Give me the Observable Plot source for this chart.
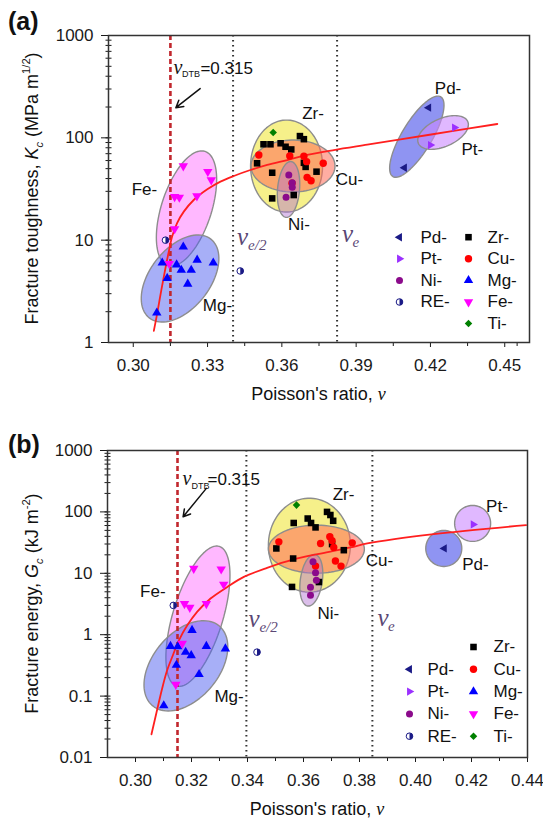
<!DOCTYPE html>
<html><head><meta charset="utf-8">
<script src="https://cdn.jsdelivr.net/npm/d3@7"></script>
<script src="https://cdn.jsdelivr.net/npm/@observablehq/plot@0.6"></script>
<style>
html,body{margin:0;padding:0;background:#fff;}
#wrap{width:543px;}
#wrap svg{display:block;}
</style></head>
<body><div id="wrap"></div>
<script>
// ================= DATA =================
// Panel (a): fracture toughness Kc (MPa m^1/2) vs Poisson's ratio
const aPd = [[0.4193,197],[0.4095,51]];
const aPt = [[0.4297,126],[0.4200,85]];
const aNi = [[0.3628,43.4],[0.3642,36.5],[0.3642,32.9],[0.3617,26.2]];
const aRE = [[0.3130,10.0],[0.3432,5.0]];
const aZr = [[0.3673,104],[0.3689,97],[0.3526,86.5],[0.3554,86.5],[0.3595,88.5],[0.3615,81.8],[0.3638,77],[0.3500,56.4],[0.3561,45.6],[0.3689,57],[0.3696,52],[0.3740,46.7],[0.3648,27.6],[0.3561,25.6]];
const aCu = [[0.3507,68],[0.3632,66.4],[0.3689,66],[0.3700,58.5],[0.3767,56.4],[0.3702,41.1],[0.3718,38.1],[0.3641,36]];
const aMg = [[0.3202,8.6],[0.3117,6.0],[0.3175,5.75],[0.3194,5.1],[0.3234,5.1],[0.3258,6.4],[0.3323,6.0],[0.3137,4.24],[0.3220,3.73],[0.3095,1.95]];
const aFe = [[0.3202,53],[0.3301,46.7],[0.3315,38.7],[0.3167,26.6],[0.3186,26.2],[0.3257,27],[0.3167,12.9],[0.3145,5.9]];
const aTi = [[0.3565,113]];
const aFit = [[0.3083,1.30],[0.3094,1.78],[0.3104,2.43],[0.3114,3.33],[0.3124,4.47],[0.3134,5.98],[0.3144,7.84],[0.3156,10.7],[0.3177,14.7],[0.3204,19.0],[0.3244,24.7],[0.3299,31.4],[0.3352,37.3],[0.3406,42.4],[0.3473,48.5],[0.3541,54.3],[0.3622,60.7],[0.3702,68.0],[0.3810,76.0],[0.3945,85.7],[0.4079,96.5],[0.4281,115.6],[0.4470,136.5]];
const aXTicks = [0.30,0.33,0.36,0.39,0.42,0.45];
const aXMinor = [0.315,0.345,0.375,0.405,0.435,0.455];
const aYTicks = [1,10,100,1000];
const aVLines = [0.3403,0.3823];
const aDTB = 0.315;

// Panel (b): fracture energy Gc (kJ m^-2) vs Poisson's ratio
const bPd = [[0.4103,25.4]];
const bPt = [[0.4206,62.5]];
const bNi = [[0.3634,15.4],[0.3643,10.2],[0.3646,7.7],[0.3625,5.9],[0.3625,4.4]];
const bRE = [[0.3135,3.0],[0.3434,0.52]];
const bZr = [[0.3565,66],[0.3615,78],[0.3627,66],[0.3684,100],[0.3696,89],[0.3706,71.6],[0.3643,55.9],[0.3503,25.4],[0.3563,17.4],[0.3559,6.0],[0.3744,23.8],[0.3702,29.9],[0.3655,7.2]];
const bCu = [[0.3512,32.5],[0.3661,30.6],[0.3694,39.3],[0.3702,33.8],[0.3708,26.4],[0.3714,15.9],[0.3734,13.1],[0.3774,31.3],[0.3643,13.1]];
const bMg = [[0.3202,1.18],[0.3125,0.65],[0.3151,0.64],[0.3179,0.52],[0.3199,0.46],[0.3253,0.65],[0.3321,0.59],[0.3146,0.32],[0.3227,0.226],[0.3101,0.070]];
const bFe = [[0.3208,12],[0.3306,11.7],[0.3315,6.6],[0.3175,3.2],[0.3194,2.77],[0.3253,3.2],[0.3167,0.72],[0.3144,0.154]];
const bTi = [[0.3575,129]];
const bFit = [[0.3057,0.0239],[0.3075,0.0542],[0.3095,0.132],[0.3113,0.263],[0.3131,0.433],[0.3155,0.810],[0.3185,1.42],[0.3220,2.35],[0.3268,3.88],[0.3328,6.00],[0.3387,8.74],[0.3470,12.25],[0.3565,16.8],[0.3661,21.0],[0.3768,26.4],[0.3828,30.6],[0.4065,43.4],[0.4395,60.9]];
const bXTicks = [0.30,0.32,0.34,0.36,0.38,0.40,0.42,0.44];
const bXMinor = [0.31,0.33,0.35,0.37,0.39,0.41,0.43];
const bYTicks = [0.01,0.1,1,10,100,1000];
const bVLines = [0.3396,0.3846];
const bDTB = 0.315;

// ================= STYLE / LAYOUT =================
const FONT = "Liberation Sans, Arial, sans-serif";
const SERIF = "Liberation Serif, Times New Roman, serif";
const NAVY = "#1a1a86";
const halfRight = {draw(ctx, size){const r=Math.sqrt(size/Math.PI); ctx.moveTo(0,-r); ctx.arc(0,0,r,-Math.PI/2,Math.PI/2); ctx.closePath();}};
const hTick = {draw(ctx, size){const r=Math.sqrt(size/Math.PI); ctx.moveTo(-r,0); ctx.lineTo(r,0);}};
const vTick = {draw(ctx, size){const r=Math.sqrt(size/Math.PI); ctx.moveTo(0,0); ctx.lineTo(0,r);}};
const SYM = {
  "Pd-": {symbol:"triangle", rotate:-90, fill:NAVY, r:3.1},
  "Pt-": {symbol:"triangle", rotate:90, fill:"#9b30ff", r:3.1},
  "Ni-": {symbol:"circle", fill:"#8b0a8b", r:3.5},
  "Zr-": {symbol:"square", fill:"#000000", r:3.7},
  "Cu-": {symbol:"circle", fill:"#ff0000", r:3.7},
  "Mg-": {symbol:"triangle", fill:"#0000ff", r:3.5},
  "Fe-": {symbol:"triangle", rotate:180, fill:"#ff00ff", r:3.5},
  "Ti-": {symbol:"diamond2", fill:"#008000", r:3.4}
};
function symMarks(data, name, pos) {
  if (name === "RE-") return [
    Plot.dot(data, {...pos, symbol:"circle", r:3.3, fill:"#ffffff", stroke:NAVY, strokeWidth:1}),
    Plot.dot(data, {...pos, symbol:halfRight, r:3.3, fill:NAVY})
  ];
  return [Plot.dot(data, {...pos, ...SYM[name]})];
}
const XY = {x: d => d[0], y: d => d[1]};

function ellipseRing(e, kx, ky) {
  const th = e.rot*Math.PI/180, pts = [];
  for (let i = 0; i <= 90; i++) {
    const t = i/90*2*Math.PI;
    const ux = e.rx*Math.cos(t), uy = e.ry*Math.sin(t);
    const dx = ux*Math.cos(th) - uy*Math.sin(th);
    const dy = ux*Math.sin(th) + uy*Math.cos(th);
    pts.push({x: e.v + dx*kx, y: e.c*Math.pow(10, -dy*ky)});
  }
  return pts;
}
function ellipseMarks(list, kx, ky) {
  return list.map(e => Plot.line(ellipseRing(e, kx, ky), {x:"x", y:"y", curve:"linear",
    fill:e.fill, fillOpacity:e.op, stroke:"#8d8d8d", strokeWidth:1.4}));
}

function rich(svg, {x, y, rotate=0, anchor="middle", size, parts, weight, fill="#111"}) {
  const t = d3.select(svg).append("text")
    .attr("transform", `translate(${x},${y})` + (rotate ? ` rotate(${rotate})` : ""))
    .attr("text-anchor", anchor).attr("font-size", size).attr("fill", fill)
    .attr("font-family", FONT);
  if (weight) t.attr("font-weight", weight);
  let cur = 0;
  for (const p of parts) {
    const off = p.sub ? 0.28*size : p.sup ? -0.42*size : 0;
    const s = t.append("tspan").text(p.t).attr("dy", off - cur);
    cur = off;
    if (p.sub || p.sup) s.attr("font-size", size*0.62);
    if (p.italic) s.attr("font-style", "italic");
    if (p.serif) s.attr("font-family", SERIF);
  }
}

function legendMarks(cols, L) {
  const marks = [];
  cols.forEach((col, ci) => col.forEach((name, ri) => {
    if (!name) return;
    const dy = L.y0 + ri*L.step;
    marks.push(...symMarks([0], name, {frameAnchor:"top-left", dx:L.mx[ci], dy}));
    marks.push(Plot.text([name], {text:d=>d, frameAnchor:"top-left", dx:L.tx[ci], dy,
      textAnchor:"start", lineAnchor:"middle", fontSize:17, fill:"#111"}));
  }));
  return marks;
}

function nuLabel(xv, yv, dx, sub, subDx) {
  return [
    Plot.text([0], {x:()=>xv, y:()=>yv, text:()=>"ν", dx, textAnchor:"start", lineAnchor:"bottom",
      fontFamily:SERIF, fontStyle:"italic", fontSize:25, fill:"#5a4775"}),
    Plot.text([0], {x:()=>xv, y:()=>yv, text:()=>sub, dx:dx+subDx, dy:5, textAnchor:"start", lineAnchor:"bottom",
      fontFamily:SERIF, fontStyle:"italic", fontSize:15, fill:"#5a4775"})
  ];
}
function dtbLabel(xv, yv, d) {
  return [
    Plot.text([0], {x:()=>xv, y:()=>yv, text:()=>"ν", dx:d[0], textAnchor:"start", lineAnchor:"bottom",
      fontFamily:SERIF, fontStyle:"italic", fontSize:20, fill:"#111"}),
    Plot.text([0], {x:()=>xv, y:()=>yv, text:()=>"DTB", dx:d[1], dy:3.5, textAnchor:"start", lineAnchor:"bottom",
      fontSize:9, fill:"#111"}),
    Plot.text([0], {x:()=>xv, y:()=>yv, text:()=>"=0.315", dx:d[2], textAnchor:"start", lineAnchor:"bottom",
      fontSize:17, fill:"#111"})
  ];
}
function clusterLabels(list) {
  return Plot.text(list, {x:"v", y:"c", text:"t", textAnchor:"middle", lineAnchor:"middle", fontSize:17, fill:"#111"});
}

function panel(P) {
  const kx = (P.xd[1]-P.xd[0])/(P.W - P.ml - P.mr);
  const ky = Math.log10(P.yd[1]/P.yd[0])/(P.H - P.mt - P.mb);
  const yMinor = [];
  P.yt.slice(0,-1).forEach(d => [1,2,3,4,5,6,7,8,9].forEach(k => yMinor.push(k*d)));
  yMinor.push(P.yt[P.yt.length-1]);
  const s = P.series;
  const svg = Plot.plot({
    width:P.W, height:P.H, marginLeft:P.ml, marginRight:P.mr, marginTop:P.mt, marginBottom:P.mb,
    style:{fontFamily:FONT, fontSize:"17px", color:"#1a1a1a", background:"#fff"},
    x:{domain:P.xd, ticks:P.xt, tickFormat:d3.format(".2f"), tickSize:5, tickPadding:11, label:null},
    y:{type:"log", domain:P.yd, ticks:P.yt, tickFormat:d=>String(d), tickSize:7, tickPadding:8, label:null},
    marks:[
      ...ellipseMarks(P.ellipses, kx, ky),
      Plot.ruleX(P.vlines, {stroke:"#333", strokeWidth:2, strokeDasharray:"1.6,3.4"}),
      Plot.ruleX([P.dtb], {stroke:"#c1272d", strokeWidth:2.6, strokeDasharray:"5,3"}),
      Plot.line(P.fit, {...XY, stroke:"#ff1f1f", strokeWidth:1.8, curve:"catmull-rom"}),
      ...symMarks(s.Zr, "Zr-", XY),
      ...symMarks(s.Cu, "Cu-", XY),
      ...symMarks(s.Ni, "Ni-", XY),
      ...symMarks(s.Mg, "Mg-", XY),
      ...symMarks(s.Fe, "Fe-", XY),
      ...symMarks(s.RE, "RE-", XY),
      ...symMarks(s.Ti, "Ti-", XY),
      ...symMarks(s.Pd, "Pd-", XY),
      ...symMarks(s.Pt, "Pt-", XY),
      clusterLabels(P.labels),
      ...nuLabel(P.vlines[0], P.nu[0], P.nu[1], "e/2", 11),
      ...nuLabel(P.vlines[1], P.nu[2], P.nu[3], "e", 10.5),
      ...dtbLabel(P.dtb, P.dtbY, P.dtbDx),
      Plot.arrow([P.arrow], {x1:"x1", y1:"y1", x2:"x2", y2:"y2", stroke:"#111", strokeWidth:1.5, headLength:8}),
      ...legendMarks(P.legend, P.L),
      Plot.dot(yMinor, {y:d=>d, frameAnchor:"left", symbol:hTick, r:3, fill:"none", stroke:"#1a1a1a", strokeWidth:1}),
      Plot.dot(P.xm, {x:d=>d, frameAnchor:"bottom", symbol:vTick, r:3.5, fill:"none", stroke:"#1a1a1a", strokeWidth:1}),
      Plot.frame({stroke:"#333", strokeWidth:1.5})
    ]
  });
  rich(svg, {x:P.ylab[0], y:P.ylab[1], rotate:-90, size:18, parts:P.yparts});
  rich(svg, {x:P.xlab[0], y:P.xlab[1], size:18, parts:[{t:"Poisson's ratio, "},{t:"ν", italic:true, serif:true}]});
  rich(svg, {x:P.tag[0], y:P.tag[1], anchor:"start", size:25, weight:"bold", parts:[{t:P.tagText}]});
  return svg;
}

const wrap = document.getElementById("wrap");
wrap.appendChild(panel({
  W:543, H:410, ml:108, mr:14, mt:35, mb:68,
  xd:[0.29,0.46], xt:aXTicks, xm:aXMinor, yd:[1,1000], yt:aYTicks,
  series:{Pd:aPd, Pt:aPt, Ni:aNi, RE:aRE, Zr:aZr, Cu:aCu, Mg:aMg, Fe:aFe, Ti:aTi},
  fit:aFit, vlines:aVLines, dtb:aDTB,
  ellipses:[
    {v:0.3619, c:53, rx:36, ry:46, rot:0, fill:"#f6f08a", op:1},
    {v:0.3645, c:53, rx:42, ry:26, rot:0, fill:"#ff6a55", op:0.55},
    {v:0.3627, c:31.3, rx:28, ry:11, rot:-85, fill:"#b06ed0", op:0.45},
    {v:0.3215, c:20.4, rx:60, ry:25, rot:-72, fill:"#ff88ff", op:0.6},
    {v:0.3189, c:4.22, rx:50, ry:30, rot:-52, fill:"#5060f0", op:0.5},
    {v:0.4145, c:102.6, rx:46.5, ry:15, rot:-59, fill:"#6a70ee", op:0.75},
    {v:0.4251, c:112.8, rx:27, ry:14, rot:-24, fill:"#cc88ff", op:0.6}
  ],
  labels:[
    {t:"Pd-", v:0.4271, c:305}, {t:"Pt-", v:0.4369, c:76}, {t:"Zr-", v:0.3726, c:171},
    {t:"Cu-", v:0.3873, c:38.7}, {t:"Ni-", v:0.3669, c:14.1}, {t:"Fe-", v:0.3045, c:30.9},
    {t:"Mg-", v:0.3340, c:2.32}
  ],
  nu:[9.0, 4, 9.7, 5],
  dtbY:421, dtbDx:[3, 11.5, 30],
  arrow:{x1:0.3270, y1:303, x2:0.3172, y2:197},
  legend:[["Pd-","Pt-","Ni-","RE-"],["Zr-","Cu-","Mg-","Fe-","Ti-"]],
  L:{mx:[291,360], tx:[312,379], y0:201.7, step:21.6},
  yparts:[{t:"Fracture toughness, "},{t:"K",italic:true},{t:"c",sub:true,italic:true},{t:" (MPa m"},{t:"1/2",sup:true},{t:")"}],
  ylab:[38, 188.5], xlab:[318.5, 400], tag:[8, 29.5], tagText:"(a)"
}));
wrap.appendChild(panel({
  W:543, H:410, ml:107, mr:16, mt:40, mb:63,
  xd:[0.29,0.44], xt:bXTicks, xm:bXMinor, yd:[0.01,1000], yt:bYTicks,
  series:{Pd:bPd, Pt:bPt, Ni:bNi, RE:bRE, Zr:bZr, Cu:bCu, Mg:bMg, Fe:bFe, Ti:bTi},
  fit:bFit, vlines:bVLines, dtb:bDTB,
  ellipses:[
    {v:0.3621, c:28.7, rx:41, ry:47, rot:0, fill:"#f6f08a", op:1},
    {v:0.3646, c:24.7, rx:48, ry:24, rot:0, fill:"#ff6a55", op:0.55},
    {v:0.3628, c:7.7, rx:26, ry:11, rot:-82, fill:"#b06ed0", op:0.45},
    {v:0.3223, c:2.0, rx:73, ry:25, rot:-73, fill:"#ff88ff", op:0.6},
    {v:0.3180, c:0.311, rx:52, ry:33, rot:-50, fill:"#5060f0", op:0.5},
    {v:0.4101, c:25.4, rx:18, ry:18, rot:0, fill:"#6a70ee", op:0.75},
    {v:0.4204, c:64.9, rx:18, ry:18, rot:0, fill:"#cc88ff", op:0.6}
  ],
  labels:[
    {t:"Zr-", v:0.3743, c:195}, {t:"Cu-", v:0.3871, c:16.1}, {t:"Ni-", v:0.3689, c:2.19},
    {t:"Pt-", v:0.4291, c:121}, {t:"Pd-", v:0.4214, c:13.8}, {t:"Fe-", v:0.3062, c:5.0},
    {t:"Mg-", v:0.3334, c:0.099}
  ],
  nu:[1.32, 2, 1.37, 5],
  dtbY:274, dtbDx:[5, 14, 30],
  arrow:{x1:0.3253, y1:241.5, x2:0.3170, y2:83.2},
  legend:[[null,"Pd-","Pt-","Ni-","RE-"],["Zr-","Cu-","Mg-","Fe-","Ti-"]],
  L:{mx:[302,366], tx:[320,386], y0:196.5, step:22.3},
  yparts:[{t:"Fracture energy, "},{t:"G",italic:true},{t:"c",sub:true,italic:true},{t:" (kJ m"},{t:"-2",sup:true},{t:")"}],
  ylab:[38, 193.5], xlab:[317, 405], tag:[8, 43], tagText:"(b)"
}));
</script>
</body></html>
